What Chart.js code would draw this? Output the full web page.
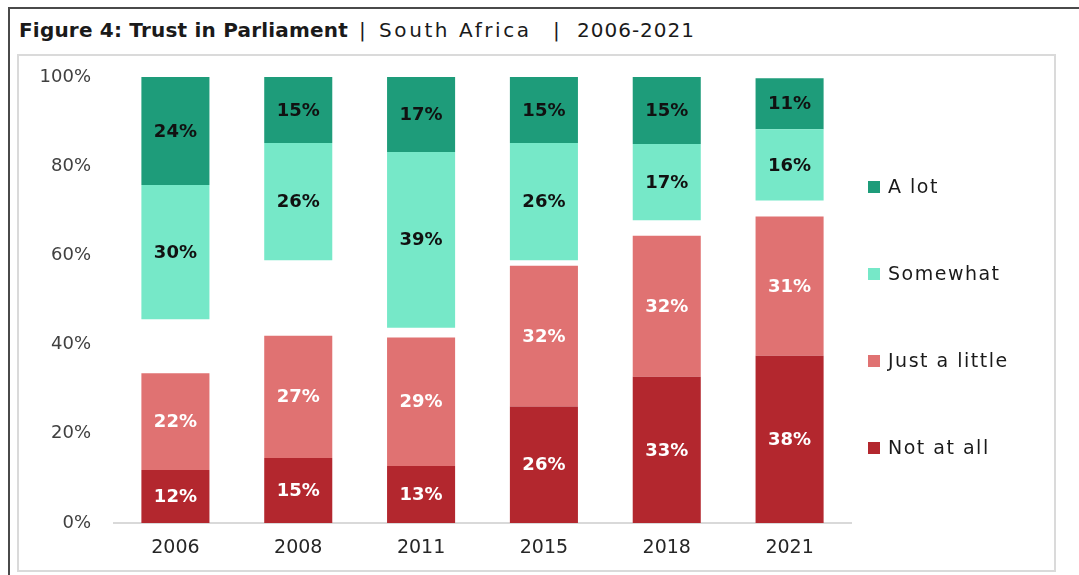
<!DOCTYPE html>
<html lang="en">
  <head>
    <meta charset="UTF-8" />
    <title>Trust in Parliament</title>
    <style>
      *,
      *::after,
      *::before {
        margin: 0;
        padding: 0;
        box-sizing: border-box;
      }

      body {
        width: 1079px;
        height: 575px;
        position: relative;
        overflow: hidden;
        background: #fff;
        font-family: 'DejaVu Sans', sans-serif;
      }

      .frame {
        position: absolute;
        left: 8px;
        top: 7px;
        width: 1100px;
        height: 600px;
        border-top: 2px solid #4a4a4a;
        border-left: 2px solid #4a4a4a;
      }

      .title span {
        position: absolute;
        top: 20px;
        font-size: 20px;
        line-height: 20px;
        color: #1a1a1a;
        white-space: pre;
      }

      .title .bold {
        left: 19px;
        font-weight: bold;
        letter-spacing: 0.2px;
      }

      .box {
        position: absolute;
        left: 17px;
        top: 54px;
        width: 1039px;
        height: 518px;
        border: 2px solid #dadada;
      }
    </style>
  </head>
  <body>
    <div class="frame"></div>
    <div class="title">
      <span class="bold">Figure 4: Trust in Parliament</span>
      <span style="left: 359px">|</span>
      <span style="left: 379px; letter-spacing: 2.6px">South Africa</span>
      <span style="left: 553px">|</span>
      <span style="left: 577px; letter-spacing: 1px">2006-2021</span>
    </div>
    <div class="box">
      <canvas id="myChart" width="1035" height="514"></canvas>
    </div>

    <script src="https://cdn.jsdelivr.net/npm/chart.js@4/dist/chart.umd.min.js"></script>
    <script>
      const years = ['2006', '2008', '2011', '2015', '2018', '2021']

      // Shares (%), bottom to top of each bar
      const notAtAll = [11.9, 14.6, 12.8, 26.1, 32.8, 37.5]
      const justALittle = [21.7, 27.4, 28.8, 31.6, 31.6, 31.2]
      const dontKnow = [12.1, 16.9, 2.2, 1.2, 3.5, 3.6] // the blank gap
      const somewhat = [30.1, 26.3, 39.4, 26.3, 17.1, 16.0]
      const aLot = [24.2, 14.8, 16.8, 14.8, 15.0, 11.4]

      const yTicks = [0, 20, 40, 60, 80, 100]

      const FONT = "'DejaVu Sans', sans-serif"

      // Percent labels in the middle of each segment
      const barLabels = {
        id: 'barLabels',
        afterDatasetsDraw(chart) {
          const ctx = chart.ctx
          ctx.save()
          ctx.font = `bold 18px ${FONT}`
          ctx.textAlign = 'center'
          ctx.textBaseline = 'middle'
          chart.data.datasets.forEach((ds, i) => {
            if (ds.isGap) return
            chart.getDatasetMeta(i).data.forEach((bar, j) => {
              ctx.fillStyle = ds.labelColor
              ctx.fillText(Math.round(ds.data[j]) + '%', bar.x, (bar.y + bar.base) / 2 + 1)
            })
          })
          ctx.restore()
        }
      }

      // Legend on the right, top item first
      const sideLegend = {
        id: 'sideLegend',
        afterDraw(chart) {
          const { ctx, chartArea } = chart
          const items = chart.data.datasets.filter((d) => !d.isGap).reverse()
          const x = chartArea.right + 17
          ctx.save()
          ctx.font = `19px ${FONT}`
          ctx.letterSpacing = '1.5px'
          ctx.textAlign = 'left'
          ctx.textBaseline = 'middle'
          items.forEach((d, i) => {
            const y = chartArea.top + 110 + i * 87
            ctx.fillStyle = d.backgroundColor
            ctx.fillRect(x, y - 6, 12, 12)
            ctx.fillStyle = '#1a1a1a'
            ctx.fillText(d.label, x + 20, y + 1)
          })
          ctx.restore()
        }
      }

      const ctx = document.getElementById('myChart')

      new Chart(ctx, {
        type: 'bar',
        data: {
          labels: years,
          datasets: [
            { label: 'Not at all', data: notAtAll, backgroundColor: '#b3272e', labelColor: '#ffffff' },
            { label: 'Just a little', data: justALittle, backgroundColor: '#e07272', labelColor: '#ffffff' },
            { label: "Don't know", data: dontKnow, backgroundColor: 'rgba(0,0,0,0)', isGap: true },
            { label: 'Somewhat', data: somewhat, backgroundColor: '#76e8c8', labelColor: '#111111' },
            { label: 'A lot', data: aLot, backgroundColor: '#1e9c7a', labelColor: '#111111' }
          ]
        },
        options: {
          responsive: false,
          animation: false,
          datasets: {
            bar: { categoryPercentage: 1, barPercentage: 0.554, borderWidth: 0 }
          },
          layout: { padding: { left: 0, right: 203, top: 21, bottom: 10 } },
          plugins: {
            legend: { display: false },
            tooltip: { enabled: false }
          },
          scales: {
            x: {
              stacked: true,
              grid: { display: false, drawTicks: false },
              border: { color: '#d9d9d9', width: 2 },
              ticks: { padding: 14, color: '#262626', font: { family: FONT, size: 19 } },
              afterFit: (scale) => {
                scale.height = 37
                scale.paddingLeft = 0
                scale.paddingRight = 0
              }
            },
            y: {
              stacked: true,
              min: 0,
              max: 100,
              grid: { display: false, drawTicks: false },
              border: { display: false },
              afterBuildTicks: (scale) => {
                scale.ticks = yTicks.map((v) => ({ value: v }))
              },
              ticks: {
                padding: 23,
                color: '#404040',
                font: { family: FONT, size: 18 },
                callback: (v) => v + '%'
              },
              afterFit: (scale) => {
                scale.width = 95
                scale.paddingTop = 0
                scale.paddingBottom = 0
              }
            }
          }
        },
        plugins: [barLabels, sideLegend]
      })
    </script>
  </body>
</html>
